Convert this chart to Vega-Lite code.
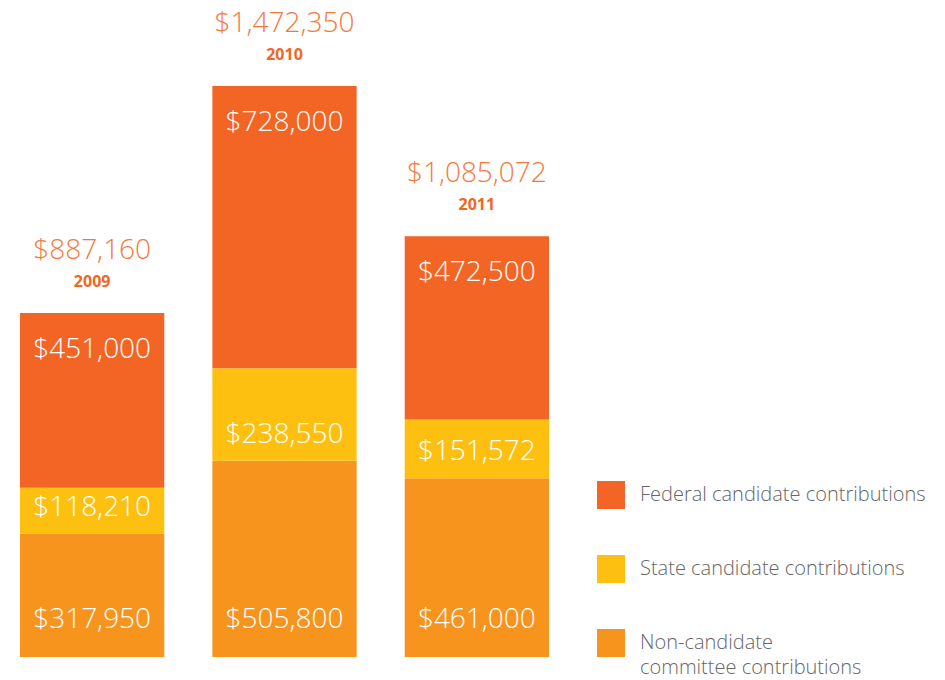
{
  "$schema": "https://vega.github.io/schema/vega-lite/v6.json",
  "width": 569,
  "height": 657,
  "padding": {"left": 0, "top": 0, "right": 0, "bottom": 12},
  "background": "white",
  "config": {"view": {"stroke": null}, "font": "Open Sans"},
  "data": {"values": [
    {"year": "2009", "series": "Non-candidate committee contributions", "rank": 1, "amount": 317950},
    {"year": "2009", "series": "State candidate contributions", "rank": 2, "amount": 118210},
    {"year": "2009", "series": "Federal candidate contributions", "rank": 3, "amount": 451000},
    {"year": "2010", "series": "Non-candidate committee contributions", "rank": 1, "amount": 505800},
    {"year": "2010", "series": "State candidate contributions", "rank": 2, "amount": 238550},
    {"year": "2010", "series": "Federal candidate contributions", "rank": 3, "amount": 728000},
    {"year": "2011", "series": "Non-candidate committee contributions", "rank": 1, "amount": 461000},
    {"year": "2011", "series": "State candidate contributions", "rank": 2, "amount": 151572},
    {"year": "2011", "series": "Federal candidate contributions", "rank": 3, "amount": 472500}
  ]},
  "transform": [
    {"stack": "amount", "groupby": ["year"], "sort": [{"field": "rank", "order": "ascending"}], "as": ["y0", "y1"]}
  ],
  "encoding": {
    "x": {"field": "year", "type": "nominal", "axis": null,
          "scale": {"paddingInner": 0.25, "paddingOuter": 0.104}}
  },
  "layer": [
    {
      "mark": {"type": "bar", "strokeWidth": 0},
      "encoding": {
        "y": {"field": "y1", "type": "quantitative", "axis": null, "scale": {"domain": [0, 1694000], "nice": false, "zero": true}},
        "y2": {"field": "y0"},
        "color": {
          "field": "series", "type": "nominal",
          "scale": {
            "domain": ["Federal candidate contributions", "State candidate contributions", "Non-candidate committee contributions"],
            "range": ["#F26524", "#FDC010", "#F7941E"]
          },
          "legend": {
            "title": null, "orient": "none", "legendX": 597, "legendY": 481,
            "padding": 0, "symbolType": "square", "symbolSize": 784, "symbolStrokeWidth": 0,
            "symbolOpacity": 1,
            "labelFontSize": 20, "labelColor": "#666666", "labelFont": "Open Sans", "labelFontWeight": 300,
            "labelOffset": 15, "labelLimit": 400, "rowPadding": 46,
            "labelExpr": "datum.label == 'Non-candidate committee contributions' ? ['Non-candidate', 'committee contributions'] : datum.label",
            "encode": {"labels": {"update": {"lineHeight": {"value": 25}}}}
          }
        }
      }
    },
    {
      "transform": [{"filter": "datum.rank == 3"}],
      "mark": {"type": "text", "color": "white", "fontSize": 28, "fontWeight": 300, "baseline": "middle", "dy": 37},
      "encoding": {
        "y": {"field": "y1", "type": "quantitative"},
        "text": {"field": "amount", "type": "quantitative", "format": "$,.0f"}
      }
    },
    {
      "transform": [{"filter": "datum.rank == 2"}],
      "mark": {"type": "text", "color": "white", "fontSize": 28, "fontWeight": 300, "baseline": "middle", "dy": -26},
      "encoding": {
        "y": {"field": "y0", "type": "quantitative"},
        "text": {"field": "amount", "type": "quantitative", "format": "$,.0f"}
      }
    },
    {
      "transform": [{"filter": "datum.rank == 1"}],
      "mark": {"type": "text", "color": "white", "fontSize": 28, "fontWeight": 300, "baseline": "middle", "dy": -37},
      "encoding": {
        "y": {"field": "y0", "type": "quantitative"},
        "text": {"field": "amount", "type": "quantitative", "format": "$,.0f"}
      }
    },
    {
      "transform": [{"aggregate": [{"op": "sum", "field": "amount", "as": "total"}], "groupby": ["year"]}],
      "layer": [
        {
          "mark": {"type": "text", "color": "#F37A3C", "fontSize": 28, "fontWeight": 300, "baseline": "middle", "dy": -62},
          "encoding": {
            "y": {"field": "total", "type": "quantitative"},
            "text": {"field": "total", "type": "quantitative", "format": "$,.0f"}
          }
        },
        {
          "mark": {"type": "text", "color": "#F26524", "fontSize": 16, "fontWeight": "bold", "baseline": "middle", "dy": -31},
          "encoding": {
            "y": {"field": "total", "type": "quantitative"},
            "text": {"field": "year", "type": "nominal"}
          }
        }
      ]
    }
  ]
}
